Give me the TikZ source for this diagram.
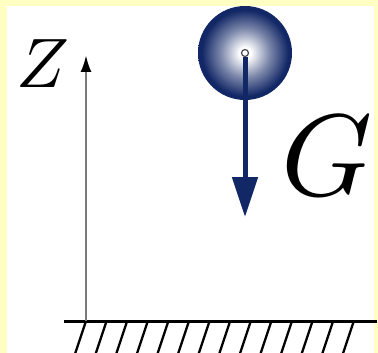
\documentclass[tikz,border=0pt]{standalone}
\usepackage{xcolor}
\usetikzlibrary{arrows.meta}
\definecolor{paleyellow}{HTML}{FFFFC4}
\definecolor{navy}{HTML}{122766}
\definecolor{axisgray}{HTML}{7A7A7A}
\pgfdeclareradialshading{ballshade}{\pgfpoint{0bp}{0bp}}{%
  color(0bp)=(white); color(3bp)=(white); color(13bp)=(navy!55);
  color(23bp)=(navy); color(50bp)=(navy)}
\tikzset{
  ground/.style={line width=3pt, black},
  hatch/.style={line width=2.3pt, black},
  axis/.style={-{Latex[length=17pt,width=11pt,color=black]}, line width=2.6pt, axisgray},
  force/.style={-{Triangle[length=40pt,width=25pt]}, line width=5pt, navy},
  ball/.style={circle, shade, shading=ballshade, minimum size=94pt, inner sep=0pt},
  pin/.style={circle, draw=black!70, fill=white, line width=1.2pt, minimum size=7pt, inner sep=0pt},
  biglabel/.style={inner sep=0pt}
}
\begin{document}
\begin{tikzpicture}[x=1pt,y=-1pt]
  \useasboundingbox (0,0) rectangle (378,353);
  % frame
  \fill[paleyellow] (0,0) rectangle (378,353);
  \fill[white] (7,6) rectangle (374,353);

  % ground
  \coordinate (gl) at (64,321);
  \coordinate (gr) at (377,321);
  \draw[ground] (gl) -- (gr);
  \foreach \i in {0,...,13}
    \draw[hatch] (86+20.6*\i,321) -- ++(-11,33);

  % height axis
  \coordinate (origin) at (86,321);
  \coordinate (ztip) at (86,55);
  \draw[axis] (origin) -- (ztip);
  \node[biglabel,scale=7] (zlab) at (43,64) {$Z$};

  % ball and weight
  \node[ball] (ball) at (245,53) {};
  \node[pin] (pin) at (ball.center) {};
  \coordinate (gtip) at (245,217);
  \draw[force] (pin.south) -- (gtip);
  \node[biglabel,scale=11.6] (glab) at (327,156) {$G$};
\end{tikzpicture}
\end{document}
